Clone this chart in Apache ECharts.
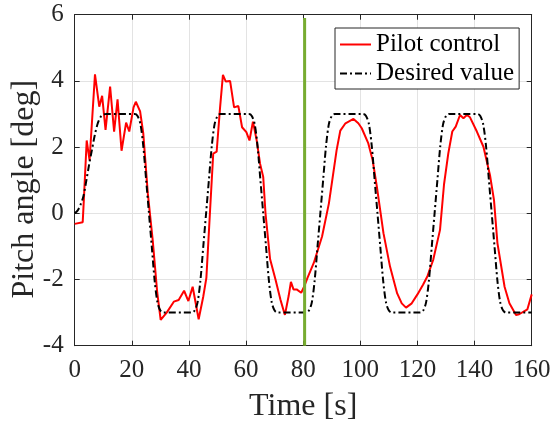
<!DOCTYPE html>
<html>
<head>
<meta charset="utf-8">
<script src="https://cdn.jsdelivr.net/npm/echarts@6/dist/echarts.min.js"></script>
<style>
  html, body { margin: 0; padding: 0; background: #fff; }
  #chart { width: 552px; height: 426px; }
</style>
</head>
<body>
<div id="chart"></div>
<script>
// pilot control (red)
var pilotT = [0, 2.8, 3.2, 4.2, 5.2, 7.1, 8.6, 9.6, 10.8, 12.4, 13.8, 15.0, 16.4, 18.0, 19.1, 20.6, 21.4, 22.9, 24.0, 25.6,
  27.3, 28.9, 30.1, 32.2, 34.7, 36.4, 38.3, 39.8, 41.3, 43.4, 45.0, 46.1, 47.4, 48.5, 49.7, 50.9, 51.9, 52.9, 54.4, 55.8,
  57.3, 58.6, 60.1, 61.2, 62.4, 63.7, 64.9, 66.0, 66.8, 68.4, 70.3, 72.0, 73.6, 74.9, 75.7, 76.6, 77.7, 79.3, 80.4, 81.5,
  83.7, 86.6, 89.0, 91.7, 93.0, 94.8, 97.6, 99.3, 100.5, 102.8, 104.3, 105.8, 108.1, 110.4, 111.6, 112.9, 114.5, 116.0, 118.0, 120.0,
  122.0, 123.5, 125.5, 127.9, 129.3, 130.8, 132.2, 133.4, 134.9, 136.1, 137.3, 138.4, 140.8, 143.1, 145.4, 146.8, 148.0, 150.5, 152.2, 154.5,
  155.6, 158.5, 160];
var pilotV = [-0.32, -0.27, 0.4, 2.2, 1.6, 4.2, 3.22, 3.55, 2.52, 3.83, 2.47, 3.44, 1.89, 2.74, 2.47, 3.2, 3.37, 3.08, 2.42, 0.6,
  -0.8, -2.4, -3.22, -3.0, -2.67, -2.62, -2.34, -2.65, -2.22, -3.2, -2.52, -1.95, 0.1, 1.8, 1.86, 3.2, 4.18, 3.98, 4.0, 3.2,
  3.24, 2.6, 2.45, 2.2, 2.77, 2.21, 1.5, 1.1, 0.0, -1.38, -2.0, -2.6, -3.07, -2.5, -2.07, -2.3, -2.3, -2.4, -2.2, -1.95,
  -1.5, -0.7, 0.3, 1.91, 2.5, 2.72, 2.85, 2.72, 2.57, 2.11, 1.61, 0.8, -0.6, -1.61, -2.0, -2.42, -2.72, -2.85, -2.72, -2.45,
  -2.15, -1.9, -1.41, -0.5, 0.87, 1.81, 2.47, 2.62, 2.97, 2.87, 2.97, 2.9, 2.47, 2.01, 1.15, 0.4, -0.9, -2.22, -2.72, -3.07,
  -3.05, -2.9, -2.45];

// desired value (black dash-dot)
var desiredT = [0, 1, 2, 3, 4, 5, 6, 7, 8, 9, 10, 11,
  21, 22, 23, 24, 25, 26, 27, 28, 29, 30, 31,
  41, 42, 43, 44, 45, 46, 47, 48, 49, 50, 51,
  61, 62, 63, 64, 65, 66, 67, 68, 69, 70, 71,
  81, 82, 83, 84, 85, 86, 87, 88, 89, 90, 91,
  101, 102, 103, 104, 105, 106, 107, 108, 109, 110, 111,
  121, 122, 123, 124, 125, 126, 127, 128, 129, 130, 131,
  141, 142, 143, 144, 145, 146, 147, 148, 149, 150, 151, 160];
var desiredV = [0, 0.08, 0.25, 0.5, 0.95, 1.45, 1.9, 2.35, 2.7, 2.9, 2.98, 3,
  3, 2.94, 2.7, 2.04, 1.02, 0, -1.02, -2.04, -2.7, -2.94, -3,
  -3, -2.94, -2.7, -2.04, -1.02, 0, 1.02, 2.04, 2.7, 2.94, 3,
  3, 2.94, 2.7, 2.04, 1.02, 0, -1.02, -2.04, -2.7, -2.94, -3,
  -3, -2.94, -2.7, -2.04, -1.02, 0, 1.02, 2.04, 2.7, 2.94, 3,
  3, 2.94, 2.7, 2.04, 1.02, 0, -1.02, -2.04, -2.7, -2.94, -3,
  -3, -2.94, -2.7, -2.04, -1.02, 0, 1.02, 2.04, 2.7, 2.94, 3,
  3, 2.94, 2.7, 2.04, 1.02, 0, -1.02, -2.04, -2.7, -2.94, -3, -3];

// green marker line
var markerT = [80.5, 80.5];
var markerV = [-4, 5.9];

var font = 'Liberation Serif';
var axisColor = '#262626';

var chart = echarts.init(document.getElementById('chart'), null, { renderer: 'canvas' });

function pairs(xs, ys) {
    return xs.map(function (x, i) { return [x, ys[i]]; });
}

//shared look of the 4 box axes
function axisCommon(show_labels, margin) {
    return {
        axisLine: { show: true, onZero: false, lineStyle: { color: axisColor, width: 1 } },
        axisTick: { show: true, inside: true, length: 5, lineStyle: { color: axisColor } },
        axisLabel: { show: show_labels, fontFamily: font, fontSize: 25, color: axisColor, margin: margin },
    };
}

var option = {
    animation: false,
    backgroundColor: '#fff',
    grid: { left: 74.7, right: 20.3, top: 14.7, bottom: 80.3, containLabel: false, outerBoundsMode: 'none' },
    legend: {
        orient: 'vertical',
        left: 335,
        top: 28,
        itemWidth: 31,
        itemHeight: 14,
        itemGap: 4,
        padding: [4, 5, 3, 4],
        backgroundColor: '#fff',
        borderColor: axisColor,
        borderWidth: 1,
        borderRadius: 0,
        itemStyle: { color: 'rgba(0,0,0,0)', borderWidth: 0, opacity: 0 },
        textStyle: { fontFamily: font, fontSize: 25, color: '#000' },
        data: ['Pilot control', 'Desired value']
    },
    xAxis: [
        Object.assign({
            type: 'value', min: 0, max: 160, interval: 20, position: 'bottom',
            name: 'Time [s]', nameLocation: 'middle', nameGap: 45, nameMoveOverlap: false,
            nameTextStyle: { fontFamily: font, fontSize: 32, color: axisColor },
            splitLine: { show: true, lineStyle: { color: '#e3e3e3', width: 1 } }
        }, axisCommon(true, 12)),
        Object.assign({
            type: 'value', min: 0, max: 160, interval: 20, position: 'top',
            splitLine: { show: false }
        }, axisCommon(false, 8))
    ],
    yAxis: [
        Object.assign({
            type: 'value', min: -4, max: 6, interval: 2, position: 'left',
            name: 'Pitch angle [deg]', nameLocation: 'middle', nameGap: 34, nameMoveOverlap: false,
            nameTextStyle: { fontFamily: font, fontSize: 32, color: axisColor, padding: [0, 18, 0, 0] },
            splitLine: { show: true, lineStyle: { color: '#e3e3e3', width: 1 } }
        }, axisCommon(true, 11)),
        Object.assign({
            type: 'value', min: -4, max: 6, interval: 2, position: 'right',
            splitLine: { show: false }
        }, axisCommon(false, 8))
    ],
    series: [
        {
            name: 'Pilot control', type: 'line', showSymbol: false, symbol: 'none',
            data: pairs(pilotT, pilotV),
            lineStyle: { color: '#ff0000', width: 2 },
            itemStyle: { color: '#ff0000' }
        },
        {
            name: 'Desired value', type: 'line', showSymbol: false, symbol: 'none',
            smooth: 0.3,
            data: pairs(desiredT, desiredV),
            lineStyle: { color: '#000', width: 2, type: [7, 3, 2, 3] },
            itemStyle: { color: '#000' }
        },
        {
            name: 'marker', type: 'line', showSymbol: false, symbol: 'none',
            data: pairs(markerT, markerV),
            lineStyle: { color: '#77ac30', width: 3 },
            itemStyle: { color: '#77ac30' }
        }
    ]
};

chart.setOption(option);
</script>
</body>
</html>
